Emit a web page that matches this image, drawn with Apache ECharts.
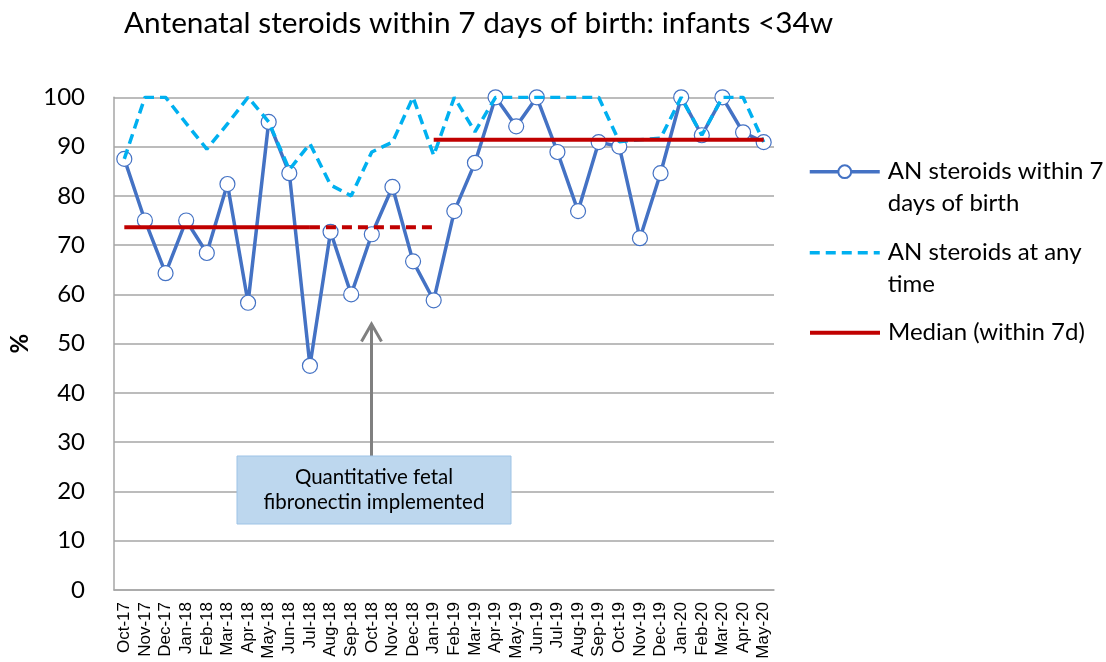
<!DOCTYPE html>
<html>
<head>
<meta charset="utf-8">
<script src="https://cdn.jsdelivr.net/npm/echarts@6/dist/echarts.min.js"></script>
<style>html,body{margin:0;padding:0;background:#fff;}#c{width:1106px;height:662px;}</style>
</head>
<body>
<div id="c"></div>
<script>
const categories = ['Oct-17','Nov-17','Dec-17','Jan-18','Feb-18','Mar-18','Apr-18','May-18','Jun-18','Jul-18','Aug-18','Sep-18','Oct-18','Nov-18','Dec-18','Jan-19','Feb-19','Mar-19','Apr-19','May-19','Jun-19','Jul-19','Aug-19','Sep-19','Oct-19','Nov-19','Dec-19','Jan-20','Feb-20','Mar-20','Apr-20','May-20'];
const within7d = [87.5,75,64.3,75,68.4,82.4,58.3,95,84.6,45.5,72.7,60,72.2,81.8,66.7,58.8,76.9,86.7,100,94.1,100,88.9,76.9,90.9,90,71.4,84.6,100,92.3,100,92.9,90.9];
const anyTime = [87.5,100,100,94.7,89.5,94.6,100,95,85.3,90.6,82.2,80,88.9,90.9,100,88.2,100,93,100,100,100,100,100,100,91,91.4,91.7,100,92.3,100,100,90.9];
const medianBefore = 73.6;
const medianAfter = 91.4;
const medianSolid = categories.map((c,i)=> i<=9 ? medianBefore : (i>=15 ? medianAfter : null));
const medianDashed = categories.map((c,i)=> (i>=9 && i<=15) ? medianBefore : null);
const yTicks = {min:0, max:100, interval:10};
const names = ['AN steroids within 7 days of birth','AN steroids at any time','Median (within 7d)'];

const chart = echarts.init(document.getElementById('c'), null, {renderer:'canvas'});
const F = 'Lato, "Open Sans", sans-serif';
const legendText = {fontFamily:F, fontSize:24, color:'#000', lineHeight:32, padding:[0,0,0,3]};
const legendCommon = {orient:'vertical', left:808, padding:0, itemWidth:70, itemHeight:16, textStyle:legendText};
const hiddenSymbol = {color:'rgba(0,0,0,0)', borderWidth:0, opacity:0};
chart.setOption({
  animation:false,
  title:{text:'Antenatal steroids within 7 days of birth: infants <34w', left:119, top:3,
    textStyle:{fontFamily:F, fontSize:29.8, fontWeight:'normal', color:'#000'}},
  grid:{left:108.5, right:332, top:97.3, bottom:72, containLabel:false},
  legend:[
    Object.assign({}, legendCommon, {top:123.7, data:[names[0]], lineStyle:{width:3.5}, formatter:()=>' \nAN steroids within 7\ndays of birth'}),
    Object.assign({}, legendCommon, {top:204.7, data:[names[1]], lineStyle:{width:3.5}, itemStyle:hiddenSymbol, formatter:()=>' \nAN steroids at any\ntime'}),
    Object.assign({}, legendCommon, {top:316.7, data:[names[2]], lineStyle:{width:4}, itemStyle:hiddenSymbol})
  ],
  xAxis:{type:'category', data:categories, boundaryGap:true,
    axisLine:{lineStyle:{color:'#A6A6A6', width:1.5}}, axisTick:{show:false},
    axisLabel:{rotate:90, margin:12, fontFamily:'"Liberation Sans", Arial, sans-serif', fontSize:17, color:'#000', interval:0}},
  yAxis:{type:'value', min:yTicks.min, max:yTicks.max, interval:yTicks.interval,
    name:'%', nameLocation:'middle', nameGap:82, nameRotate:90,
    nameTextStyle:{fontFamily:F, fontSize:24, fontWeight:'bold', color:'#000'},
    axisLine:{show:true, lineStyle:{color:'#A6A6A6', width:1.5}}, axisTick:{show:false},
    axisLabel:{fontFamily:F, fontSize:24, color:'#000', margin:29},
    splitLine:{lineStyle:{color:'#A6A6A6', width:1.5}}},
  series:[
    {name:names[0], type:'line', data:within7d, symbol:'circle', symbolSize:15, showSymbol:true,
      lineStyle:{color:'#4472C4', width:3.5}, itemStyle:{color:'#FFFFFF', borderColor:'#4472C4', borderWidth:1.2}, z:2},
    {name:names[1], type:'line', data:anyTime, symbol:'none',
      lineStyle:{color:'#00B0F0', width:3.5, type:[10,6]}, itemStyle:{color:'#00B0F0'}, z:3},
    {name:names[2], type:'line', data:medianSolid, symbol:'none', connectNulls:false,
      lineStyle:{color:'#C00000', width:4}, itemStyle:{color:'#C00000'}, z:4},
    {name:'Median extension', type:'line', data:medianDashed, symbol:'none', connectNulls:false,
      lineStyle:{color:'#C00000', width:4, type:[10,6]}, itemStyle:{color:'#C00000'}, z:4}
  ],
  graphic:[
    {type:'line', shape:{x1:371.5, y1:456, x2:371.5, y2:324}, style:{stroke:'#808080', lineWidth:3}, z:10},
    {type:'polyline', shape:{points:[[361.5,341.5],[371.5,324],[381.5,341.5]]}, style:{stroke:'#808080', lineWidth:3, fill:null}, z:10},
    {type:'rect', shape:{x:237, y:456, width:274, height:68}, style:{fill:'#BDD7EE', stroke:'#9DC3E6', lineWidth:1}, z:10},
    {type:'text', x:374, y:490, style:{text:'Quantitative fetal\nfibronectin implemented', fontFamily:F, fontSize:20.5, lineHeight:25, fill:'#000', align:'center', verticalAlign:'middle'}, z:11}
  ]
});
</script>
</body>
</html>
